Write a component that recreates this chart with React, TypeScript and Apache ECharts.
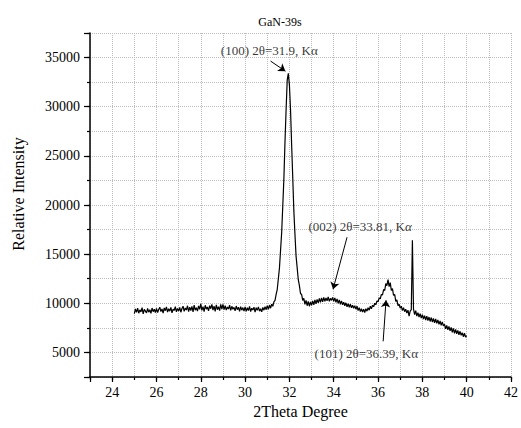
import React, { useEffect, useRef } from 'react';
import * as echarts from 'echarts';

// XRD scan: 2θ from 25.00° to 40.00° in 0.05° steps
const X_START = 25;
const X_STEP = 0.05;
const intensity: number[] = [
  // 25.00 – 25.95
  8950, 9420, 9080, 9510, 8990, 9330, 9120, 9560, 8920, 9380, 9200, 9020, 9470, 9100, 9350, 8980, 9520, 9150, 9400, 9050,
  // 26.00 – 26.95
  9480, 9060, 9370, 9600, 9150, 9420, 8990, 9530, 9250, 9640, 9100, 9450, 9200, 9580, 9020, 9390, 9270, 9650, 9130, 9480,
  // 27.00 – 27.95
  9200, 9580, 9090, 9470, 9700, 9180, 9520, 9310, 9750, 9160, 9600, 9250, 9680, 9120, 9820, 9300, 9550, 9200, 9730, 9380,
  // 28.00 – 28.95
  9950, 9280, 9650, 9150, 9800, 9400, 9620, 9230, 9760, 9450, 9880, 9300, 9700, 9180, 9850, 9350, 9660, 9250, 9900, 9400,
  // 29.00 – 29.95
  9880, 9350, 9750, 9300, 9620, 9420, 9800, 9280, 9690, 9400, 9580, 9230, 9720, 9350, 9610, 9180, 9650, 9300, 9560, 9200,
  // 30.00 – 30.95
  9620, 9180, 9550, 9260, 9680, 9150, 9500, 9320, 9600, 9100, 9560, 9280, 9640, 9200, 9450, 9130, 9580, 9300, 9660, 9350,
  // 31.00 – 31.95
  9750, 9380, 9820, 9500, 9900, 9700, 10150, 10300, 10900, 11400, 12500, 13600, 15400, 17200, 19900, 22700, 26400, 29700, 32700, 33400,
  // 32.00 – 32.95
  32200, 29700, 26100, 22800, 19400, 17000, 14800, 13600, 12400, 11800, 11000, 10900, 10300, 10500, 9900, 10300, 9750, 10200, 9700, 10150,
  // 33.00 – 33.95
  9800, 10250, 9850, 10350, 9950, 10400, 10050, 10500, 10100, 10550, 10150, 10600, 10200, 10550, 10250, 10650, 10200, 10500, 10300, 10600,
  // 34.00 – 34.95
  10200, 10550, 10100, 10450, 10000, 10350, 9900, 10250, 9850, 10100, 9750, 10050, 9650, 9950, 9600, 9900, 9550, 9800, 9500, 9750,
  // 35.00 – 35.95
  9400, 9700, 9250, 9550, 9150, 9450, 9100, 9400, 9050, 9450, 9200, 9550, 9300, 9700, 9450, 9800, 9650, 10000, 9850, 10250,
  // 36.00 – 36.95
  10150, 10550, 10450, 10900, 10850, 11400, 11300, 12000, 11800, 12400, 11700, 12100, 11300, 11500, 10800, 10900, 10200, 10350, 9750, 9900,
  // 37.00 – 37.95
  9500, 9700, 9250, 9550, 9150, 9400, 9000, 9300, 8700, 9200, 9350, 16400, 9400, 8850, 9250, 8700, 9050, 8600, 8950, 8500,
  // 38.00 – 38.95
  8850, 8400, 8750, 8300, 8700, 8250, 8600, 8150, 8550, 8100, 8450, 8000, 8400, 7950, 8300, 7850, 8200, 7750, 8100, 7700,
  // 39.00 – 39.95
  7850, 7400, 7750, 7300, 7650, 7200, 7550, 7050, 7450, 6950, 7350, 6900, 7250, 6800, 7150, 6750, 7000, 6600, 6950, 6550,
  // 40.00
  6700,
];

const X_MIN = 23;
const X_MAX = 42;
const Y_MIN = 2500;
const Y_MAX = 37500;

const titleText = 'GaN-39s';
const xName = '2Theta Degree';
const yName = 'Relative Intensity';

// peak annotations: label text, label anchor (data coords), arrow start, arrow end
const annLabels = ['(100) 2θ=31.9, Kα', '(002) 2θ=33.81, K{i|α}', '(101) 2θ=36.39, Kα'];
const annLabelAt: [number, number][] = [[31.09, 35760], [35.19, 17840], [35.47, 4940]];
const arrowFrom: [number, number][] = [[31.15, 34640], [34.6, 16720], [36.23, 6130]];
const arrowTo: [number, number][] = [[31.82, 33620], [33.97, 11430], [36.36, 10310]];

const FONT = '"Liberation Serif", "Times New Roman", serif';

export default function App() {
  const ref = useRef<HTMLDivElement>(null);

  useEffect(() => {
    if (!ref.current) return;
    const chart = echarts.init(ref.current, undefined, { renderer: 'svg' });
    const data = intensity.map((v, i) => [Number((X_START + i * X_STEP).toFixed(2)), v]);

    const gridLine = { show: true, lineStyle: { type: 'dotted' as const, color: '#bdbdbd', width: 1 } };
    const axisLine = { show: true, onZero: false, lineStyle: { color: '#000', width: 1.5 } };

    chart.setOption({
      animation: false,
      backgroundColor: '#fff',
      textStyle: { fontFamily: FONT },
      grid: { left: 90, right: 7, top: 33, bottom: 51, containLabel: false },
      graphic: [
        {
          type: 'text',
          x: 280,
          y: 22,
          style: { text: titleText, font: `12px ${FONT}`, fill: '#000', textAlign: 'center', textVerticalAlign: 'middle' },
        },
        {
          type: 'text',
          x: 18,
          y: 194,
          rotation: Math.PI / 2,
          style: { text: yName, font: `16px ${FONT}`, fill: '#000', textAlign: 'center', textVerticalAlign: 'middle' },
        },
      ],
      xAxis: [
        {
          type: 'value',
          position: 'bottom',
          min: X_MIN,
          max: X_MAX,
          interval: 1,
          axisLine,
          axisTick: { show: true, inside: false, length: 3, lineStyle: { color: '#000', width: 1.2 } },
          axisLabel: { show: false },
          splitLine: gridLine,
          name: xName,
          nameLocation: 'middle',
          nameGap: 26,
          nameTextStyle: { fontFamily: FONT, fontSize: 16, color: '#000' },
        },
        {
          type: 'value',
          position: 'bottom',
          min: X_MIN,
          max: X_MAX,
          splitNumber: 10,
          axisLine: { show: false },
          axisTick: { show: true, inside: false, length: 5, lineStyle: { color: '#000', width: 1.2 } },
          axisLabel: {
            show: true,
            margin: 8,
            fontFamily: FONT,
            fontSize: 14,
            color: '#000',
            formatter: (v: number) => (Math.round(v) % 2 === 0 ? String(v) : ''),
          },
          splitLine: { show: false },
        },
      ],
      yAxis: [
        {
          type: 'value',
          position: 'left',
          min: Y_MIN,
          max: Y_MAX,
          interval: 2500,
          axisLine,
          axisTick: { show: true, inside: false, length: 3, lineStyle: { color: '#000', width: 1.2 } },
          axisLabel: { show: false },
          splitLine: gridLine,
        },
        {
          type: 'value',
          position: 'left',
          min: Y_MIN,
          max: Y_MAX,
          splitNumber: 7,
          axisLine: { show: false },
          axisTick: { show: true, inside: false, length: 6, lineStyle: { color: '#000', width: 1.2 } },
          axisLabel: {
            show: true,
            margin: 10,
            fontFamily: FONT,
            fontSize: 14,
            color: '#000',
            formatter: (v: number) => (v % 5000 === 0 ? String(v) : ''),
          },
          splitLine: { show: false },
        },
      ],
      series: [
        {
          type: 'line',
          xAxisIndex: 0,
          yAxisIndex: 0,
          data,
          showSymbol: false,
          symbol: 'none',
          silent: true,
          lineStyle: { color: '#000', width: 1.2 },
        },
        {
          type: 'scatter',
          xAxisIndex: 0,
          yAxisIndex: 0,
          silent: true,
          symbol: 'circle',
          symbolSize: 1,
          itemStyle: { color: 'rgba(0,0,0,0)' },
          data: annLabels.map((t, i) => ({ value: annLabelAt[i], name: t })),
          label: {
            show: true,
            position: 'inside',
            color: '#000',
            fontFamily: FONT,
            fontSize: 13,
            formatter: (p: any) => p.name,
            rich: { i: { fontStyle: 'italic', fontFamily: FONT, fontSize: 13, color: '#000' } },
          },
          markLine: {
            silent: true,
            symbol: ['none', 'arrow'],
            symbolSize: 7,
            label: { show: false },
            lineStyle: { color: '#000', width: 1, type: 'solid' },
            data: arrowFrom.map((s, i) => [
              { coord: s, symbol: 'none' },
              { coord: arrowTo[i], symbol: 'arrow' },
            ]),
          },
        },
      ],
    });

    return () => chart.dispose();
  }, []);

  return (
    <div
      ref={ref}
      style={{ position: 'absolute', left: 0, top: 0, width: 521, height: 428, background: '#fff' }}
    />
  );
}
